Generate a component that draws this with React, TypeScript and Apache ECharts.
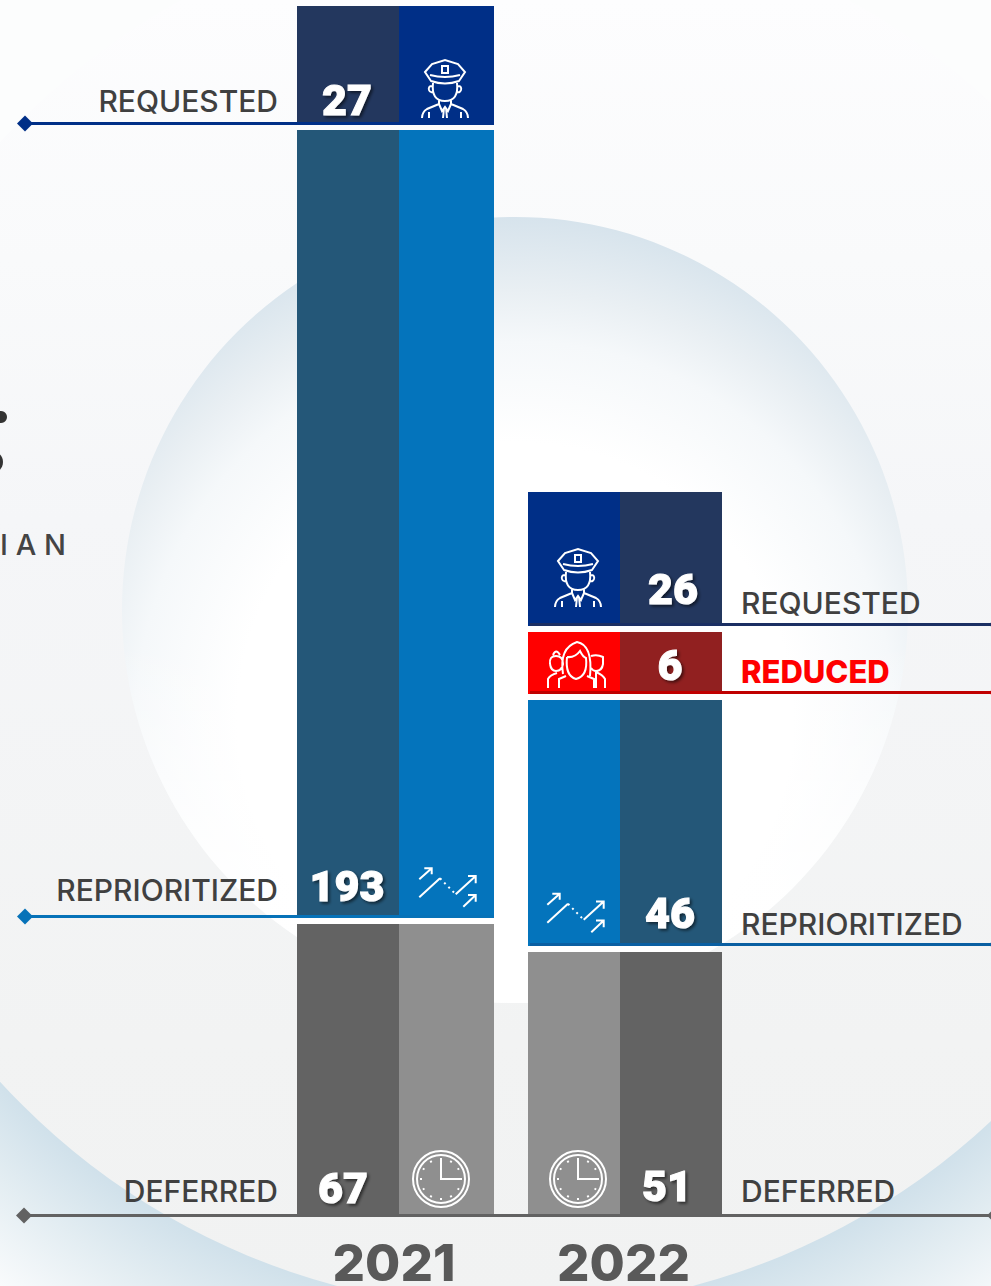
import React, { useEffect, useRef } from "react";
import * as echarts from "echarts";

// Figures printed on the bars
const years = ["2021", "2022"];
const names2021 = ["DEFERRED", "REPRIORITIZED", "REQUESTED"];
const names2022 = ["DEFERRED", "REPRIORITIZED", "REDUCED", "REQUESTED"];
const values2021 = [67, 193, 27];
const values2022 = [51, 46, 6, 26];
// The reference's bars are not proportional to the printed figures: drawn lengths are read from the picture.
const lengths2021 = [292, 788, 119];
const lengths2022 = [264, 246, 62, 134];
const gaps2021 = [6, 5];
const gaps2022 = [6, 6, 6];
const axisMax = 1216;

const NUM_FONT = "Roboto";
const TXT_FONT = "Inter";
const colors: Record<string, string[]> = {
  DEFERRED: ["#636363", "#8f8f8f"],
  REPRIORITIZED: ["#245778", "#0474bc"],
  REDUCED: ["#912020", "#ff0000"],
  REQUESTED: ["#23375e", "#002f87"],
};
const lineColors: Record<string, string> = {
  DEFERRED: "#626262",
  REPRIORITIZED: "#0672b8",
  REDUCED: "#c00000",
  REQUESTED: "#002f87",
};

const officerD =
  "M3 12 L10 4 L23 0 L36 4 L43 12 L37 21 Q23 26 9 21 Z M8 15 Q23 19 38 15 M20 6 H26 V13 H20 Z " +
  "M11 23 Q9 41 23 41 Q37 41 35 23 M10 26 Q6 26 7 30 Q8 33 11 32 M36 26 Q40 26 39 30 Q38 33 35 32 " +
  "M17 40 V44 L5 49 Q0 52 0 58 M29 40 V44 L41 49 Q46 52 46 58 M7 52 V58 M39 52 V58 " +
  "M17 44 L20 51 L23 47 L26 51 L29 44 M22 48 L21 58 M24 48 L25 58";
const peopleD =
  "M16 32 Q12 6 30 0 Q46 3 43 34 M20 15 Q28 16 33 9 Q36 15 39 16 Q41 34 29 37 Q18 34 20 15 " +
  "M3 22 Q2 14 9 14 Q16 14 16 22 Q15 29 9 29 Q4 29 3 22 M6 13 Q9 6 13 13 " +
  "M1 46 V37 Q3 33 10 31 M12 46 V37 L19 34 M47 46 V37 L40 34 " +
  "M44 14 Q50 12 56 15 L56 22 Q55 29 49 29 Q46 29 44 26 M58 46 V37 Q56 33 49 30 M49 30 V46 M29 37 V38";
const trendD =
  "M1.3 32.3 L22 13.3 M37.7 29.3 L57.7 11 M50 11 H57.7 V18.3 M1.3 14.3 L13.7 3.3 M6.3 3.3 H13.7 V9.3 " +
  "M45.3 41.7 L57.7 30 M50 30 H57.7 V36.7";
const trendDotsD = "M22 13.3 L37.7 29.3";
const clockBuild = () => {
  let d =
    "M1 29 A28 28 0 1 1 57 29 A28 28 0 1 1 1 29 M5 29 A24 24 0 1 1 53 29 A24 24 0 1 1 5 29 M29 10 V29 H49 ";
  for (let i = 0; i < 12; i++) {
    const a = (i * Math.PI) / 6;
    d += `M${(29 + 19 * Math.sin(a)).toFixed(1)} ${(29 - 19 * Math.cos(a)).toFixed(1)} L${(29 + 21 * Math.sin(a)).toFixed(1)} ${(29 - 21 * Math.cos(a)).toFixed(1)} `;
  }
  return d;
};
echarts.graphic.registerShape("officerIcon", echarts.graphic.extendPath(officerD, {}));
echarts.graphic.registerShape("peopleIcon", echarts.graphic.extendPath(peopleD, {}));
echarts.graphic.registerShape("trendIcon", echarts.graphic.extendPath(trendD, {}));
echarts.graphic.registerShape("trendDots", echarts.graphic.extendPath(trendDotsD, {}));
echarts.graphic.registerShape("clockIcon", echarts.graphic.extendPath(clockBuild(), {}));

// label placement inside each segment: [distance above segment bottom, horizontal shift]
const labelPlace2021 = [[6, -5], [10, -1], [3, -1]];
const labelPlace2022 = [[8, -4], [11, -1], [7, -1], [15, 2]];

function buildSeries(axis: number, names: string[], values: number[], lengths: number[], gaps: number[], place: number[][], numberCol: number, widths: number[]) {
  const out: any[] = [];
  [0, 1].forEach((col) => {
    names.forEach((name, i) => {
      const isNum = col === numberCol;
      const tone = colors[name][isNum ? 0 : 1];
      out.push({
        type: "bar",
        name: `${years[axis]} ${name}`,
        xAxisIndex: axis,
        yAxisIndex: axis,
        stack: `${axis}-${col}`,
        barWidth: widths[col],
        barGap: 0,
        silent: true,
        itemStyle: { color: tone },
        data: [
          {
            value: lengths[i],
            label: isNum
              ? {
                  show: true,
                  position: "insideBottom",
                  distance: place[i][0],
                  offset: [place[i][1], 0],
                  formatter: String(values[i]),
                  color: "#ffffff",
                  fontFamily: NUM_FONT,
                  fontWeight: 900,
                  fontSize: 43,
                  lineHeight: 45,
                  textBorderColor: "#ffffff",
                  textBorderWidth: 1,
                  textShadowColor: "rgba(0,0,0,0.55)",
                  textShadowBlur: 3,
                  textShadowOffsetX: 2,
                  textShadowOffsetY: 2,
                }
              : { show: false },
          },
        ],
      });
      if (i < gaps.length) {
        out.push({
          type: "bar",
          name: `${years[axis]} gap ${i}`,
          xAxisIndex: axis,
          yAxisIndex: axis,
          stack: `${axis}-${col}`,
          barWidth: widths[col],
          barGap: 0,
          silent: true,
          itemStyle: { color: "transparent" },
          data: [gaps[i]],
        });
      }
    });
  });
  return out;
}

const R = echarts.graphic.RadialGradient as any;
const L = echarts.graphic.LinearGradient as any;

function backdrop(): any[] {
  const z = -10;
  return [
    {
      type: "rect",
      z,
      shape: { x: 0, y: 0, width: 991, height: 1286 },
      style: {
        fill: new R(515, 612, 900, [
          { offset: 0, color: "#cfe0ea" },
          { offset: 0.77, color: "#cfe0ea" },
          { offset: 0.85, color: "#e3edf2" },
          { offset: 0.95, color: "#fbfcfd" },
          { offset: 1, color: "#ffffff" },
        ], true),
      },
    },
    {
      type: "rect",
      z,
      shape: { x: 0, y: 0, width: 991, height: 1000 },
      style: { fill: "#fcfdfd" },
    },
    {
      type: "circle",
      z,
      shape: { cx: 515, cy: 612, r: 697 },
      style: {
        fill: new L(0, 0, 0, 1300, [
          { offset: 0, color: "#fdfdfe" },
          { offset: 0.2, color: "#f9fafb" },
          { offset: 0.4, color: "#f5f6f8" },
          { offset: 0.8, color: "#f2f3f3" },
          { offset: 1, color: "#f1f2f2" },
        ], true),
      },
    },
    {
      type: "circle",
      z,
      shape: { cx: 515, cy: 610, r: 393 },
      style: {
        fill: new R(515, 720, 505, [
          { offset: 0, color: "#ffffff" },
          { offset: 0.55, color: "#ffffff" },
          { offset: 0.75, color: "#f5f8fa" },
          { offset: 0.85, color: "#e9eff3" },
          { offset: 1, color: "#d6e3ec" },
        ], true),
      },
    },
    {
      type: "circle",
      z,
      shape: { cx: 515, cy: 610, r: 393 },
      style: {
        fill: new L(0, 640, 0, 1003, [
          { offset: 0, color: "rgba(255,255,255,0)" },
          { offset: 0.7, color: "rgba(255,255,255,0.9)" },
          { offset: 1, color: "rgba(255,255,255,1)" },
        ], true),
      },
    },
    // Title cropped by the left edge of the image
    { type: "circle", z: z + 1, shape: { cx: 1, cy: 417, r: 6 }, style: { fill: "#333333" } },
    { type: "ellipse", z: z + 1, shape: { cx: -6, cy: 462, rx: 9, ry: 10 }, style: { fill: "#333333" } },
    {
      type: "text",
      z: z + 1,
      x: 0,
      y: 544,
      style: { text: "I A N", fill: "#444444", font: `500 29px ${TXT_FONT}`, verticalAlign: "middle", align: "left" },
    },
  ];
}

function diamond(cx: number, cy: number, fill: string): any {
  return {
    type: "polygon",
    z: 10,
    shape: { points: [[cx - 8, cy], [cx, cy - 8], [cx + 8, cy], [cx, cy + 8]] },
    style: { fill },
  };
}
function leader(x1: number, x2: number, y: number, stroke: string): any {
  return { type: "line", z: 10, shape: { x1, y1: y, x2, y2: y }, style: { stroke, lineWidth: 3 } };
}
function caption(text: string, x: number, y: number, align: string, fill = "#404040", weight = 500, size = 30): any {
  return {
    type: "text",
    z: 11,
    x,
    y,
    style: { text, fill, align, verticalAlign: "bottom", font: `${weight} ${size}px ${TXT_FONT}` },
  };
}
function icon(type: string, x: number, y: number, extra: any = {}): any {
  return {
    type,
    z: 11,
    x,
    y,
    style: { fill: "none", stroke: "#ffffff", lineWidth: 2, ...extra },
  };
}

// caption lift above each leader line
const captionLift2021 = [9.5, 11.5, 7.5];
const captionLift2022 = [9.5, 5.5, 5.5, 6.5];

export default function App() {
  const ref = useRef<HTMLDivElement>(null);
  useEffect(() => {
    document.body.style.margin = "0";
    const chart = echarts.init(ref.current!, undefined, { renderer: "svg" });
    const axisLabel = {
      color: "#595959",
      fontFamily: TXT_FONT,
      fontWeight: 800,
      fontSize: 51,
      lineHeight: 46,
      margin: 23,
      padding: [0, 3, 0, 0],
    };
    const base: any = {
      animation: false,
      backgroundColor: "transparent",
      grid: [
        { left: 297, width: 197, top: 0, height: axisMax, outerBoundsMode: "none" },
        { left: 528, width: 194, top: 0, height: axisMax, outerBoundsMode: "none" },
      ],
      xAxis: years.map((y, i) => ({
        type: "category",
        gridIndex: i,
        data: [y],
        axisLine: { show: false },
        axisTick: { show: false },
        axisLabel,
      })),
      yAxis: years.map((_, i) => ({
        type: "value",
        gridIndex: i,
        min: 0,
        max: axisMax,
        show: false,
      })),
      series: [
        ...buildSeries(0, names2021, values2021, lengths2021, gaps2021, labelPlace2021, 0, [102, 95]),
        ...buildSeries(1, names2022, values2022, lengths2022, gaps2022, labelPlace2022, 1, [92, 102]),
      ],
    };
    chart.setOption(base);

    // Leaders sit on the bottom edge of each segment, read back through the value axis.
    const bottoms = (lengths: number[], gaps: number[]) => {
      let acc = 0;
      return lengths.map((l, i) => {
        const b = acc;
        acc += l + (gaps[i] ?? 0);
        return b;
      });
    };
    const yOf = (axis: number, v: number) => chart.convertToPixel({ yAxisIndex: axis }, v) as number;
    const left = bottoms(lengths2021, gaps2021).map((v) => yOf(0, v) - 1.5);
    const right = bottoms(lengths2022, gaps2022).map((v) => yOf(1, v) - 1.5);
    left[0] += 1;

    const over: any[] = [];
    // Baseline
    over.push(leader(25, 991, left[0], lineColors.DEFERRED), diamond(24, left[0], lineColors.DEFERRED), diamond(995, left[0], lineColors.DEFERRED));
    names2021.forEach((n, i) => {
      if (i > 0) over.push(leader(25, 494, left[i], lineColors[n]), diamond(25, left[i], lineColors[n]));
      over.push(caption(n, 278, left[i] - captionLift2021[i], "right"));
    });
    names2022.forEach((n, i) => {
      const y = i === 0 ? left[0] : right[i];
      if (i > 0) {
        const c = n === "REQUESTED" ? "#1b2f63" : n === "REPRIORITIZED" ? "#0a5fa2" : lineColors[n];
        over.push(leader(530, 991, y, c), diamond(997, y, c));
      }
      const red = n === "REDUCED";
      over.push(caption(n, 741, y - captionLift2022[i], "left", red ? "#ff0000" : "#404040", red ? 800 : 500, red ? 31 : 30));
    });
    over.push(
      icon("officerIcon", 422, 60),
      icon("officerIcon", 555, 549),
      icon("peopleIcon", 547, 642),
      icon("trendIcon", 418, 865),
      icon("trendDots", 418, 865, { lineDash: [2, 4] }),
      icon("trendIcon", 546, 890.5),
      icon("trendDots", 546, 890.5, { lineDash: [2, 4] }),
      icon("clockIcon", 412, 1150),
      icon("clockIcon", 549, 1150),
    );
    chart.setOption({ graphic: { elements: [...backdrop(), ...over] } });
    return () => chart.dispose();
  }, []);
  return <div ref={ref} style={{ width: 991, height: 1286, overflow: "hidden" }} />;
}
